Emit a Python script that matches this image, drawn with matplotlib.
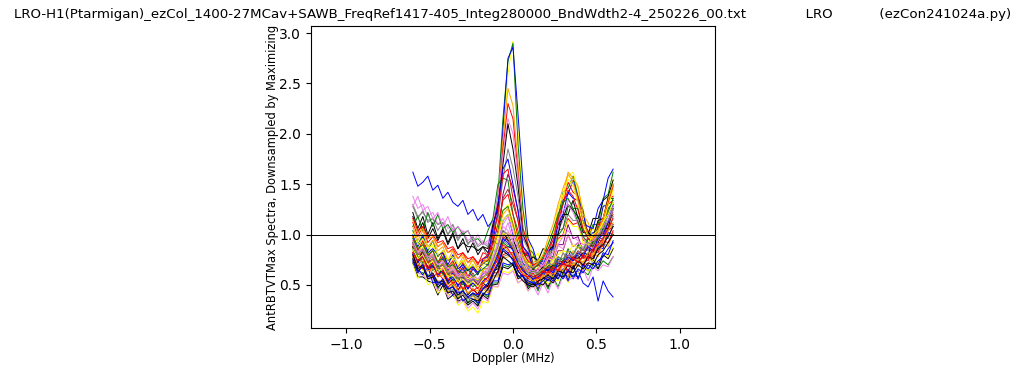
import numpy as np
import matplotlib
matplotlib.use('Agg')
import matplotlib.pyplot as plt

# Doppler axis of the downsampled spectra (MHz)
doppler = np.linspace(-0.6, 0.6, 41)

# spectra: left part (-0.60..-0.21), centre (-0.18..0.18), right (0.21..0.60)
spectra = [
    [1.62,1.48,1.52,1.58,1.44,1.49,1.36,1.42,1.32,1.28,1.34,1.20,1.25,1.14,
     1.20,1.08,1.14,1.00,0.92,0.98,0.86,0.90,0.78,0.82,0.70,0.74,0.64,
     0.76,0.60,0.70,0.58,0.66,0.56,0.64,0.52,0.48,0.58,0.34,0.54,0.44,0.38],
    [0.98,0.84,0.94,0.80,0.88,0.72,0.82,0.66,0.76,0.62,0.72,0.58,0.68,0.60,
     0.74,0.68,0.90,1.15,1.90,2.60,2.92,2.05,1.25,1.00,0.76,0.82,0.64,
     0.78,0.86,1.18,1.35,1.58,1.62,1.44,1.26,1.00,1.06,1.02,1.28,1.32,1.55],
    [1.04,0.90,1.00,0.84,0.94,0.78,0.84,0.74,0.78,0.68,0.74,0.64,0.70,0.62,
     0.72,0.74,1.00,1.40,2.15,2.72,2.90,1.90,1.25,0.86,0.82,0.66,0.76,
     0.76,0.98,1.15,1.42,1.46,1.58,1.38,1.24,0.96,1.10,1.10,1.36,1.40,1.62],
    [0.92,0.80,0.86,0.76,0.80,0.70,0.76,0.64,0.72,0.60,0.68,0.56,0.66,0.60,
     0.72,0.70,0.92,1.25,2.05,2.75,2.86,2.20,1.50,0.96,0.86,0.70,0.74,
     0.68,0.90,1.00,1.34,1.40,1.54,1.36,1.22,0.98,1.02,1.04,1.28,1.30,1.50],
    [1.08,0.94,1.04,0.88,0.94,0.84,0.88,0.74,0.84,0.68,0.78,0.66,0.76,0.64,
     0.74,0.78,1.04,1.36,1.95,2.45,2.28,1.72,1.06,0.92,0.72,0.76,0.70,
     0.86,0.96,1.26,1.38,1.62,1.56,1.48,1.20,1.12,0.96,1.14,1.16,1.38,1.44],
    [1.12,0.98,1.08,0.92,0.98,0.88,0.92,0.82,0.86,0.76,0.82,0.72,0.78,0.70,
     0.82,0.80,1.10,1.32,1.85,2.30,2.15,1.62,1.06,0.90,0.70,0.72,0.68,
     0.82,0.90,1.20,1.30,1.52,1.42,1.38,1.12,1.04,0.90,1.10,1.14,1.36,1.38],
    [1.38,1.26,1.30,1.18,1.22,1.10,1.16,1.06,1.10,0.98,1.04,0.94,0.98,0.90,
     0.94,0.90,1.14,1.36,1.80,2.15,2.00,1.58,1.00,0.86,0.68,0.70,0.66,
     0.78,0.82,1.04,1.14,1.34,1.30,1.28,1.04,0.98,0.86,1.04,1.06,1.24,1.26],
    [1.22,1.06,1.18,1.00,1.12,0.96,1.06,0.92,1.02,0.86,0.96,0.82,0.92,0.80,
     0.88,0.86,1.10,1.26,1.70,2.10,1.85,1.48,1.00,0.88,0.70,0.72,0.66,
     0.84,0.88,1.10,1.16,1.30,1.24,1.18,1.02,1.02,0.98,1.14,1.16,1.36,1.36],
    [1.28,1.16,1.24,1.12,1.16,1.04,1.12,1.00,1.06,0.94,1.02,0.90,0.98,0.88,
     0.92,0.88,1.04,1.16,1.55,1.85,1.66,1.38,0.96,0.86,0.70,0.74,0.68,
     0.82,0.84,1.04,1.06,1.20,1.14,1.14,0.98,0.98,0.94,1.08,1.08,1.26,1.26],
    [0.88,0.76,0.84,0.72,0.74,0.68,0.70,0.58,0.68,0.54,0.62,0.52,0.60,0.52,
     0.64,0.62,0.84,1.00,1.40,1.60,1.46,1.24,0.88,0.80,0.62,0.66,0.62,
     0.74,0.74,0.90,0.90,1.10,0.96,0.98,0.84,0.86,0.82,0.96,0.96,1.12,1.10],
    [0.92,0.82,0.84,0.78,0.80,0.68,0.78,0.64,0.68,0.58,0.66,0.54,0.62,0.52,
     0.66,0.66,0.90,1.00,1.36,1.45,1.30,1.14,0.84,0.78,0.62,0.66,0.60,
     0.70,0.68,0.84,0.84,1.00,0.88,0.92,0.76,0.82,0.78,0.94,0.94,1.10,1.08],
    [0.82,0.68,0.78,0.64,0.68,0.62,0.64,0.52,0.62,0.48,0.58,0.46,0.56,0.50,
     0.62,0.60,0.76,0.86,1.14,1.20,1.00,0.92,0.70,0.70,0.56,0.62,0.58,
     0.68,0.64,0.76,0.72,0.84,0.74,0.80,0.68,0.78,0.74,0.88,0.86,1.02,1.00],
    [0.88,0.74,0.84,0.68,0.72,0.66,0.66,0.54,0.64,0.50,0.54,0.48,0.52,0.46,
     0.58,0.54,0.70,0.74,0.96,1.00,0.86,0.82,0.64,0.66,0.54,0.58,0.54,
     0.64,0.60,0.66,0.64,0.76,0.66,0.78,0.66,0.80,0.76,0.90,0.88,1.04,1.08],
    [0.78,0.64,0.62,0.60,0.58,0.46,0.56,0.42,0.50,0.36,0.46,0.32,0.42,0.30,
     0.42,0.38,0.52,0.52,0.70,0.68,0.72,0.58,0.60,0.48,0.54,0.44,0.56,
     0.46,0.58,0.48,0.62,0.56,0.60,0.58,0.64,0.60,0.70,0.66,0.74,0.70,0.78],
    [0.72,0.58,0.58,0.54,0.52,0.40,0.50,0.36,0.40,0.34,0.36,0.30,0.34,0.29,
     0.40,0.36,0.50,0.51,0.68,0.66,0.70,0.56,0.59,0.46,0.52,0.46,0.58,
     0.48,0.60,0.56,0.62,0.58,0.70,0.56,0.68,0.64,0.76,0.66,0.80,0.76,0.86],
    [0.70,0.56,0.66,0.50,0.54,0.42,0.46,0.40,0.42,0.30,0.34,0.24,0.28,0.22,
     0.34,0.32,0.48,0.48,0.64,0.62,0.66,0.52,0.56,0.44,0.50,0.46,0.56,
     0.51,0.56,0.54,0.64,0.52,0.66,0.62,0.68,0.64,0.76,0.71,0.82,0.78,0.88],
    [0.94,0.80,0.92,0.76,0.80,0.74,0.74,0.62,0.72,0.58,0.62,0.56,0.60,0.54,
     0.64,0.60,0.76,0.80,1.00,1.02,0.98,0.80,0.78,0.64,0.68,0.58,0.70,
     0.66,0.72,0.70,0.82,0.72,0.84,0.80,0.86,0.84,0.96,0.94,1.10,1.08,1.24],
    [0.74,0.62,0.60,0.56,0.56,0.44,0.54,0.38,0.44,0.32,0.36,0.27,0.32,0.26,
     0.38,0.34,0.49,0.48,0.62,0.60,0.64,0.52,0.56,0.44,0.50,0.40,0.52,
     0.42,0.56,0.46,0.59,0.54,0.58,0.56,0.66,0.54,0.68,0.64,0.70,0.68,0.78],
    [1.30,1.18,1.22,1.14,1.16,1.10,1.12,1.00,1.10,0.96,1.02,0.92,0.94,0.84,
     0.88,0.76,0.86,0.80,0.94,0.90,0.92,0.76,0.78,0.66,0.70,0.60,0.72,
     0.66,0.78,0.68,0.82,0.76,0.80,0.78,0.88,0.84,0.96,0.92,1.06,1.04,1.18],
    [1.08,1.18,1.04,1.22,1.08,1.20,1.06,1.10,1.02,1.08,1.00,1.04,0.94,0.96,
     0.90,1.04,1.16,1.50,1.56,1.54,1.20,1.04,0.82,0.78,0.66,0.72,0.68,
     0.80,0.78,0.99,1.06,1.28,1.26,1.26,1.04,0.98,0.88,1.04,1.06,1.26,1.32],
    [1.18,1.02,1.12,0.96,1.06,0.94,1.04,0.90,1.00,0.86,0.92,0.88,0.88,0.84,
     0.88,0.82,0.94,0.90,1.04,0.94,0.96,0.82,0.84,0.72,0.78,0.74,0.86,
     0.84,0.99,1.00,1.20,1.20,1.34,1.16,1.14,1.00,1.16,1.16,1.34,1.38,1.54],
    [0.80,0.66,0.60,0.68,0.52,0.54,0.50,0.48,0.40,0.46,0.34,0.38,0.36,0.32,
     0.42,0.40,0.54,0.54,0.72,0.70,0.72,0.58,0.60,0.50,0.56,0.46,0.59,
     0.54,0.62,0.56,0.66,0.54,0.68,0.56,0.70,0.66,0.72,0.70,0.82,0.80,0.94],
    [0.98,0.84,0.94,0.78,0.84,0.72,0.82,0.68,0.74,0.62,0.72,0.58,0.68,0.62,
     0.74,0.74,1.00,1.20,1.60,1.65,1.36,1.14,0.84,0.79,0.66,0.70,0.66,
     0.78,0.76,0.96,1.00,1.16,1.10,1.12,0.94,0.96,0.92,1.08,1.10,1.30,1.34],
    [0.90,0.76,0.88,0.72,0.76,0.70,0.70,0.58,0.68,0.54,0.60,0.56,0.59,0.54,
     0.66,0.64,0.84,0.96,1.24,1.30,1.12,0.98,0.76,0.76,0.62,0.68,0.64,
     0.76,0.74,0.94,0.98,1.14,1.08,1.08,0.92,0.94,0.90,1.06,1.08,1.30,1.46],
    [0.78,0.64,0.74,0.58,0.60,0.54,0.54,0.42,0.52,0.38,0.42,0.36,0.39,0.34,
     0.46,0.42,0.58,0.58,0.76,0.78,0.78,0.62,0.64,0.52,0.58,0.48,0.60,
     0.56,0.62,0.60,0.70,0.58,0.72,0.68,0.74,0.70,0.82,0.78,0.92,0.88,1.02],
    [1.28,1.38,1.24,1.28,1.16,1.22,1.08,1.18,1.04,1.08,1.02,1.04,0.92,1.00,
     0.90,0.94,0.88,1.00,0.98,1.12,0.94,0.92,0.76,0.78,0.66,0.72,0.68,
     0.80,0.76,0.89,0.86,0.99,0.88,0.92,0.86,0.98,0.94,1.08,1.06,1.22,1.22],
    [0.76,0.62,0.72,0.56,0.59,0.53,0.54,0.42,0.46,0.40,0.42,0.36,0.40,0.36,
     0.48,0.44,0.59,0.60,0.78,0.80,0.80,0.64,0.66,0.54,0.59,0.52,0.64,
     0.58,0.70,0.60,0.74,0.68,0.72,0.70,0.80,0.76,0.88,0.84,0.98,0.96,1.10],
    [0.88,0.72,0.84,0.66,0.69,0.64,0.62,0.51,0.56,0.44,0.54,0.40,0.46,0.41,
     0.52,0.48,0.64,0.66,0.86,0.88,0.86,0.68,0.68,0.56,0.66,0.62,0.68,
     0.64,0.70,0.68,0.74,0.72,0.78,0.76,0.82,0.80,0.94,0.92,1.06,1.06,1.26],
    [1.00,0.88,0.98,0.82,0.86,0.80,0.82,0.70,0.80,0.66,0.70,0.64,0.68,0.62,
     0.76,0.78,1.06,1.30,1.65,1.75,1.50,1.24,0.88,0.82,0.68,0.74,0.70,
     0.84,0.86,1.12,1.20,1.42,1.36,1.34,1.12,1.08,1.06,1.26,1.34,1.56,1.65],
    [0.82,0.70,0.66,0.74,0.58,0.62,0.56,0.48,0.52,0.46,0.48,0.42,0.46,0.40,
     0.50,0.46,0.62,0.62,0.80,0.82,0.82,0.66,0.68,0.56,0.62,0.52,0.64,
     0.60,0.66,0.64,0.74,0.62,0.76,0.72,0.78,0.74,0.86,0.82,0.94,0.92,1.04],
    [0.86,0.78,0.72,0.80,0.64,0.70,0.60,0.62,0.54,0.58,0.50,0.55,0.48,0.54,
     0.56,0.62,0.70,0.78,0.92,0.88,0.90,0.74,0.72,0.62,0.64,0.60,0.66,
     0.70,0.66,0.78,0.74,0.86,0.80,0.90,0.84,0.96,0.92,1.08,1.04,1.20,1.28],
    [1.02,0.90,0.96,0.86,0.90,0.80,0.84,0.76,0.78,0.70,0.74,0.66,0.70,0.64,
     0.70,0.72,0.82,0.98,1.14,1.20,1.08,0.90,0.80,0.72,0.70,0.74,0.80,
     0.92,1.02,1.26,1.40,1.55,1.48,1.30,1.10,0.98,0.94,1.02,1.12,1.30,1.42],
    [0.84,0.70,0.76,0.64,0.66,0.58,0.60,0.50,0.54,0.44,0.48,0.42,0.46,0.44,
     0.52,0.54,0.64,0.72,0.88,0.84,0.80,0.70,0.62,0.58,0.54,0.56,0.58,
     0.62,0.58,0.68,0.64,0.72,0.70,0.76,0.72,0.82,0.80,0.90,0.94,1.04,1.12],
    [0.94,0.82,0.86,0.78,0.80,0.70,0.74,0.66,0.68,0.60,0.64,0.58,0.60,0.56,
     0.62,0.66,0.78,0.92,1.10,1.18,1.02,0.86,0.74,0.68,0.64,0.66,0.72,
     0.84,0.96,1.12,1.24,1.30,1.22,1.10,0.96,0.88,0.86,0.94,1.02,1.14,1.24],
    [0.80,0.66,0.70,0.58,0.62,0.52,0.54,0.46,0.48,0.40,0.44,0.38,0.42,0.38,
     0.46,0.50,0.60,0.70,0.84,0.80,0.76,0.64,0.58,0.52,0.50,0.54,0.56,
     0.60,0.56,0.64,0.62,0.70,0.66,0.74,0.70,0.78,0.76,0.86,0.90,0.98,1.08],
    [0.90,0.80,0.82,0.72,0.76,0.66,0.70,0.60,0.64,0.56,0.58,0.52,0.56,0.50,
     0.58,0.60,0.72,0.82,0.98,0.94,0.86,0.76,0.66,0.62,0.58,0.60,0.64,
     0.68,0.64,0.74,0.72,0.80,0.76,0.84,0.80,0.90,0.88,0.98,1.02,1.12,1.20],
    [1.16,1.04,1.08,0.98,1.00,0.92,0.94,0.86,0.88,0.80,0.82,0.76,0.78,0.72,
     0.76,0.80,0.92,1.10,1.34,1.40,1.20,0.98,0.82,0.74,0.70,0.72,0.76,
     0.86,0.94,1.14,1.30,1.44,1.38,1.24,1.06,0.96,0.94,1.04,1.16,1.32,1.48],
    [0.86,0.72,0.80,0.66,0.70,0.60,0.64,0.54,0.58,0.50,0.54,0.46,0.52,0.48,
     0.54,0.58,0.68,0.80,0.96,0.92,0.84,0.72,0.64,0.60,0.56,0.58,0.62,
     0.66,0.62,0.72,0.70,0.78,0.74,0.82,0.78,0.88,0.84,0.96,1.00,1.12,1.30],
    [0.82,0.74,0.78,0.66,0.72,0.58,0.64,0.56,0.52,0.54,0.46,0.50,0.44,0.48,
     0.52,0.58,0.66,0.76,0.90,0.86,0.78,0.68,0.60,0.58,0.62,0.56,0.64,
     0.62,0.68,0.64,0.72,0.68,0.78,0.72,0.80,0.76,0.86,0.90,0.96,1.06,1.16],
    [0.96,0.86,0.90,0.80,0.84,0.72,0.78,0.68,0.70,0.64,0.62,0.66,0.58,0.62,
     0.66,0.70,0.84,1.04,1.24,1.28,1.10,0.92,0.78,0.70,0.66,0.70,0.78,
     0.90,1.04,1.20,1.32,1.36,1.26,1.12,0.98,0.92,0.90,0.98,1.08,1.22,1.36],
    [0.76,0.64,0.68,0.56,0.58,0.48,0.52,0.42,0.44,0.36,0.40,0.32,0.36,0.34,
     0.40,0.46,0.54,0.64,0.78,0.74,0.70,0.60,0.54,0.50,0.48,0.52,0.50,
     0.56,0.52,0.60,0.58,0.64,0.62,0.70,0.66,0.72,0.70,0.80,0.84,0.92,1.00],
    [0.86,0.76,0.80,0.70,0.74,0.62,0.68,0.58,0.60,0.52,0.56,0.50,0.54,0.48,
     0.56,0.62,0.72,0.86,1.02,0.98,0.88,0.76,0.68,0.62,0.60,0.62,0.66,
     0.70,0.74,0.80,0.84,0.82,0.90,0.86,0.92,0.90,1.00,1.04,1.12,1.20,1.32],
    [0.74,0.62,0.70,0.58,0.60,0.50,0.56,0.46,0.48,0.42,0.44,0.38,0.42,0.40,
     0.46,0.52,0.62,0.72,0.86,0.82,0.74,0.64,0.58,0.54,0.52,0.50,0.54,
     0.58,0.54,0.62,0.56,0.64,0.58,0.66,0.62,0.70,0.66,0.74,0.78,0.86,0.92],
    [0.90,0.82,0.84,0.76,0.78,0.70,0.72,0.62,0.66,0.58,0.60,0.54,0.58,0.52,
     0.60,0.64,0.76,0.90,1.08,1.04,0.92,0.80,0.70,0.64,0.62,0.64,0.70,
     0.76,0.82,0.90,0.98,1.04,0.98,0.94,0.90,0.92,0.94,1.00,1.08,1.18,1.28],
    [1.14,1.02,1.06,0.96,0.98,0.88,0.92,0.82,0.84,0.76,0.80,0.72,0.74,0.68,
     0.72,0.76,0.86,1.02,1.20,1.26,1.08,0.90,0.78,0.70,0.68,0.72,0.80,
     0.96,1.10,1.30,1.46,1.60,1.52,1.34,1.14,1.00,0.96,1.04,1.16,1.34,1.50],
    [0.92,0.80,0.86,0.74,0.78,0.66,0.72,0.62,0.64,0.56,0.60,0.52,0.56,0.54,
     0.58,0.62,0.74,0.88,1.04,1.00,0.88,0.76,0.68,0.62,0.60,0.62,0.66,
     0.72,0.70,0.78,0.76,0.84,0.80,0.88,0.84,0.92,0.90,1.00,1.04,1.14,1.26],
]

line_colors = ['blue', 'yellow', 'green', 'blue', 'orange', 'red', 'violet', 'black',
               'gray', 'purple', 'brown', 'blue', 'red', 'green', 'black', 'yellow',
               'orange', 'violet', 'gray', 'green', 'black', 'blue', 'red', 'yellow',
               'orange', 'violet', 'gray', 'black', 'blue', 'red',
               'green', 'yellow', 'orange', 'violet', 'black', 'brown', 'red', 'blue',
               'red', 'green', 'black', 'yellow', 'blue', 'violet', 'orange', 'gray']

title_text = ('LRO-H1(Ptarmigan)_ezCol_1400-27MCav+SAWB_FreqRef1417-405_Integ280000_BndWdth2-4_250226_00.txt'
              '              LRO           (ezCon241024a.py)')

fig = plt.figure(figsize=(10.24, 3.72), dpi=100)
ax = fig.add_axes([0.3037, 0.1183, 0.3945, 0.8118])

for s, c in zip(spectra, line_colors):
    assert len(s) == len(doppler)
    ax.plot(doppler, s, color=c, linewidth=0.7)

ax.axhline(1.0, color='black', linewidth=0.7)

ax.set_xlim(-1.21, 1.21)
ax.set_ylim(0.073, 3.07)
ax.set_xticks([-1.0, -0.5, 0.0, 0.5, 1.0])
ax.set_yticks([0.5, 1.0, 1.5, 2.0, 2.5, 3.0])
ax.set_xlabel('Doppler (MHz)', fontsize=8.3, labelpad=0.5)
ax.set_ylabel('AntRBTVTMax Spectra, Downsampled by Maximizing', fontsize=8.3, labelpad=0)
ax.set_title(title_text, fontsize=9.6)

fig.savefig('out.png', dpi=100)
